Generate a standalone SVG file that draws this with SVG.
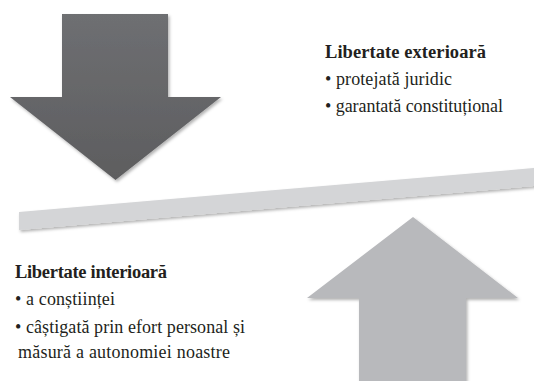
<svg xmlns="http://www.w3.org/2000/svg" width="534" height="381" viewBox="0 0 534 381">
<style>
  .t { font-family: "Liberation Serif", "Times New Roman", serif; fill: #231f20; font-size: 18px; font-weight: normal; }
  .b { font-weight: bold; font-size: 18.5px; }
</style>
<defs>
  <linearGradient id="gDown" x1="0" y1="0" x2="0" y2="1">
    <stop offset="0" stop-color="#6e6f72"/>
    <stop offset="1" stop-color="#5d5d5f"/>
  </linearGradient>
  <filter id="sh" x="-10%" y="-10%" width="130%" height="130%">
    <feDropShadow dx="1.5" dy="2" stdDeviation="1.5" flood-color="#000" flood-opacity="0.3"/>
  </filter>
</defs>
<rect width="534" height="381" fill="#ffffff"/>
<g id="arrow-down" filter="url(#sh)">
  <polygon points="62,14 168,14 168,97 221,97 115.5,180 10,97 62,97" fill="url(#gDown)"/>
</g>
<g id="beam" filter="url(#sh)">
  <polygon points="19,212 540,167.5 540,185.5 19,230" fill="#d4d5d7"/>
</g>
<g id="arrow-up" filter="url(#sh)">
  <polygon points="413,217 518,298 466,298 466,390 359,390 359,298 307,298" fill="#b8b9bc"/>
</g>
<g id="exterior">
  <text class="t b" x="325" y="58" textLength="161" lengthAdjust="spacing">Libertate exterioară</text>
  <text class="t" x="325" y="85" textLength="127" lengthAdjust="spacing">• protejată juridic</text>
  <text class="t" x="325" y="112" textLength="178" lengthAdjust="spacing">• garantată constituțional</text>
</g>
<g id="interior">
  <text class="t b" x="15" y="278" textLength="152" lengthAdjust="spacing">Libertate interioară</text>
  <text class="t" x="15" y="305" textLength="100" lengthAdjust="spacing">• a conștiinței</text>
  <text class="t" x="15" y="333" textLength="230" lengthAdjust="spacing">• câștigată prin efort personal și</text>
  <text class="t" x="18" y="358" textLength="212" lengthAdjust="spacing">măsură a autonomiei noastre</text>
</g>
</svg>
